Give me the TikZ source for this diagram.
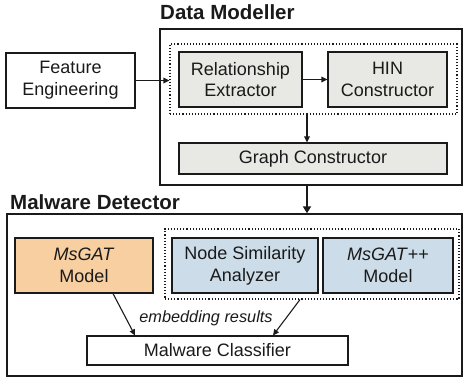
\documentclass[tikz,border=0pt]{standalone}
\usepackage{fontspec}
\setmainfont{Liberation Sans}
\usetikzlibrary{arrows.meta}
\definecolor{graybox}{HTML}{E8E9E4}
\definecolor{orangebox}{HTML}{F7CFA0}
\definecolor{bluebox}{HTML}{CCDCE8}
\definecolor{ink}{HTML}{1A1A1A}
\tikzset{
  box/.style={draw=ink, line width=1.1pt, rectangle, align=center, inner sep=0pt,
    font=\fontsize{18}{21.7}\selectfont, text=ink},
  outer/.style={draw=ink, line width=1.4pt, rectangle, inner sep=0pt},
  dotbox/.style={draw=ink, line width=1.1pt, dotted, rectangle, inner sep=0pt},
  title/.style={font=\fontsize{20.5}{24}\selectfont\bfseries, anchor=west, inner sep=0pt, text=ink},
  arr/.style={draw=ink, line width=1.1pt, -{Triangle[length=6pt,width=5.5pt]}},
  bigarr/.style={draw=ink, line width=2.6pt, -{Triangle[length=7pt,width=8pt]}},
}
\begin{document}
\begin{tikzpicture}[x=1pt,y=-1pt]
\useasboundingbox (0,0) rectangle (464,381);
% Data Modeller
\node[title] (t1) at (160,12.5) {Data Modeller};
\node[outer, minimum width=302pt, minimum height=156pt] (dm) at (311,107) {};
\node[box, minimum width=129pt, minimum height=55pt] (fe) at (70.5,80.5) {Feature\\Engineering};
\node[dotbox, minimum width=287pt, minimum height=70pt] (d1) at (313.5,79) {};
\node[box, fill=graybox, minimum width=123pt, minimum height=55pt] (re) at (240.5,79.5) {Relationship\\Extractor};
\node[box, fill=graybox, minimum width=119pt, minimum height=55pt] (hin) at (387.5,79.5) {HIN\\Constructor};
\node[box, fill=graybox, minimum width=268pt, minimum height=31pt] (gc) at (313,158.5) {Graph Constructor};
\draw[arr] (fe.east) -- (d1.west |- fe.east);
\draw[arr] (re.east) -- (hin.west);
\draw[arr] ([xshift=-6.5pt]d1.south) -- ([xshift=-6pt]gc.north);
% Malware Detector
\node[title] (t2) at (10,202) {Malware Detector};
\node[outer, minimum width=455pt, minimum height=162pt] (md) at (234.5,295) {};
\draw[bigarr] ([xshift=-4pt]dm.south) -- ([xshift=72.5pt]md.north);
\node[dotbox, minimum width=294pt, minimum height=70pt] (d2) at (312,264) {};
\node[box, fill=orangebox, minimum width=138pt, minimum height=55pt] (ms) at (84,265.5) {\textit{MsGAT}\\Model};
\node[box, fill=bluebox, minimum width=146pt, minimum height=55pt] (nsa) at (245,265.5) {Node Similarity\\Analyzer};
\node[box, fill=bluebox, minimum width=130pt, minimum height=55pt] (mpp) at (388,265.5) {\textit{MsGAT}++\\Model};
\node[box, minimum width=261pt, minimum height=29pt] (mc) at (217.5,350.5) {Malware Classifier};
\draw[arr] ([xshift=29pt]ms.south) -- ([xshift=-82.5pt]mc.north);
\draw[arr] ([xshift=-12pt]d2.south) -- ([xshift=55.5pt]mc.north);
\node[font=\fontsize{16.3}{19}\selectfont\itshape, text=ink, inner sep=0pt] (lbl) at (206,318) {embedding results};
\end{tikzpicture}
\end{document}
